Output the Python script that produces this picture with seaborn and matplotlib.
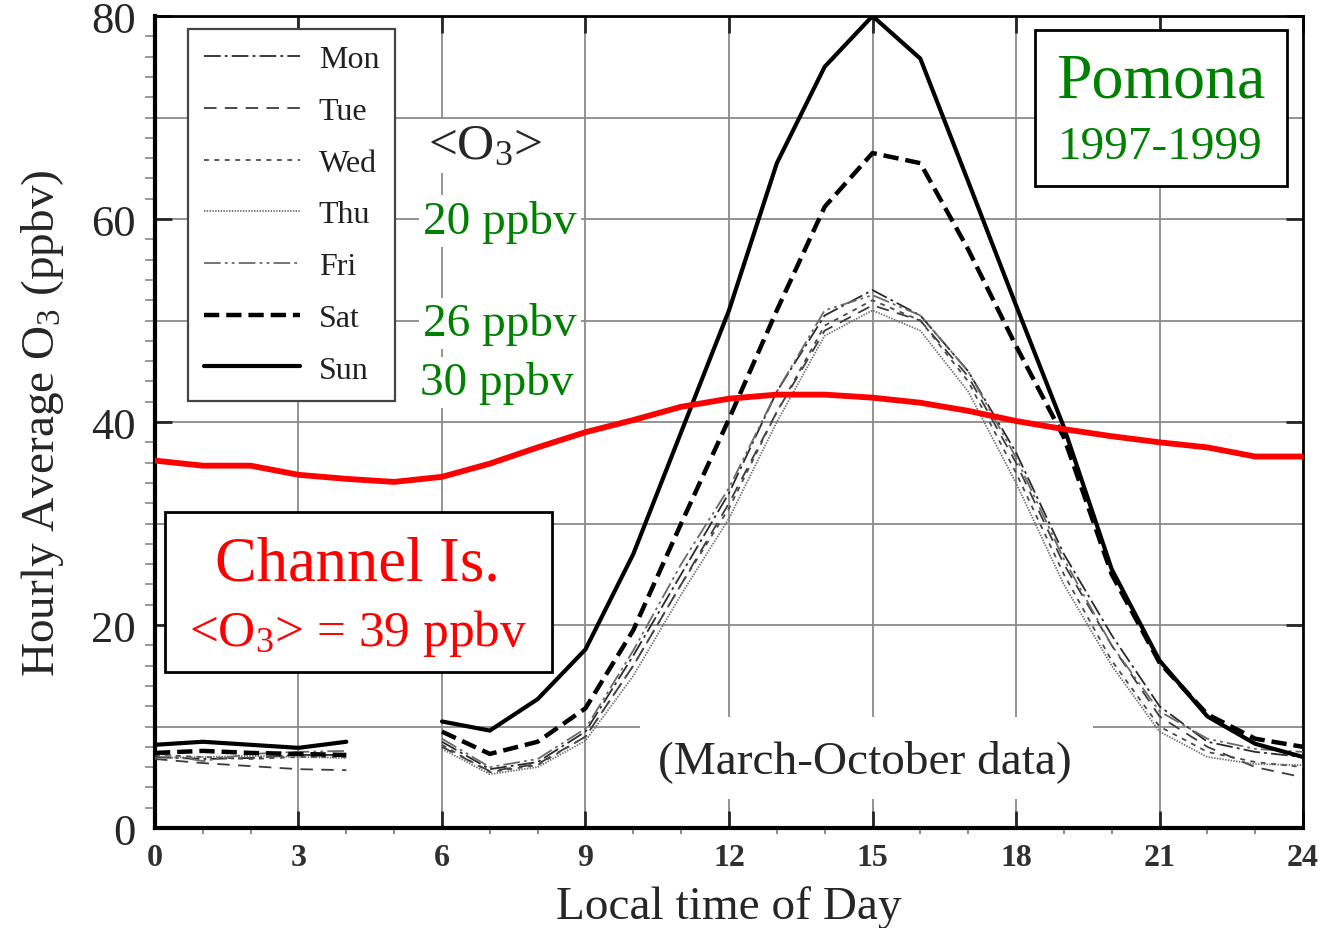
import numpy as np
import pandas as pd
import matplotlib
matplotlib.use("Agg")
import matplotlib.pyplot as plt
from matplotlib.lines import Line2D
from matplotlib.patches import Rectangle
from matplotlib.ticker import MultipleLocator
import seaborn as sns

sns.set_style("white")
plt.rcParams['font.family'] = ['Liberation Serif', 'DejaVu Serif']
plt.rcParams['mathtext.fontset'] = 'custom'
plt.rcParams['mathtext.rm'] = 'Liberation Serif'
plt.rcParams['mathtext.it'] = 'Liberation Serif:italic'
plt.rcParams['lines.scale_dashes'] = False

# ---- data, hour 5 has no Pomona data ----
hours = list(range(25))
nan = np.nan
mon = [7.0, 6.8, 6.9, 7.2, 7.2, nan, 8.5, 5.8, 6.5, 9.5, 17.0, 25.0, 33.0, 43.0, 50.5, 53.0, 50.5, 45.0, 37.0, 27.0, 19.0, 12.0, 8.5, 7.5, 7.0]
tue = [6.8, 6.4, 6.1, 5.8, 5.7, nan, 8.0, 5.6, 6.3, 9.0, 16.0, 24.0, 32.0, 41.0, 49.0, 51.5, 50.0, 44.5, 36.0, 26.0, 18.0, 11.0, 8.0, 6.0, 5.0]
wed = [7.2, 7.0, 6.8, 7.0, 7.0, nan, 8.2, 5.5, 6.2, 9.0, 16.0, 24.0, 31.5, 41.0, 49.5, 52.0, 50.0, 44.0, 35.0, 25.0, 16.5, 10.0, 7.5, 6.5, 6.0]
thu = [6.9, 7.0, 7.1, 7.0, 6.9, nan, 7.8, 5.3, 6.0, 8.6, 15.0, 23.0, 30.5, 40.0, 48.5, 51.0, 49.0, 43.0, 34.0, 24.0, 16.0, 9.5, 7.0, 6.3, 6.2]
fri = [7.4, 6.6, 7.3, 7.5, 7.6, nan, 8.8, 6.0, 6.8, 9.8, 17.5, 26.0, 33.5, 43.0, 51.0, 52.5, 50.5, 45.0, 36.5, 26.5, 18.0, 11.5, 8.8, 7.8, 7.5]
sat = [7.4, 7.6, 7.4, 7.3, 7.2, nan, 9.5, 7.3, 8.5, 11.8, 19.5, 30.0, 40.3, 51.0, 61.2, 66.5, 65.5, 57.0, 47.5, 38.5, 25.0, 16.3, 11.2, 8.8, 8.0]
sun = [8.2, 8.5, 8.2, 7.9, 8.5, nan, 10.5, 9.6, 12.7, 17.6, 27.0, 39.0, 51.0, 65.5, 75.0, 80.0, 75.8, 63.7, 51.5, 39.5, 25.5, 16.5, 11.0, 8.3, 7.0]
channel_is = [36.2, 35.7, 35.7, 34.8, 34.4, 34.1, 34.6, 35.9, 37.5, 39.0, 40.2, 41.5, 42.3, 42.7, 42.7, 42.4, 41.9, 41.1, 40.1, 39.3, 38.6, 38.0, 37.5, 36.6, 36.6]

days = ['Mon', 'Tue', 'Wed', 'Thu', 'Fri', 'Sat', 'Sun']
values = [mon, tue, wed, thu, fri, sat, sun]

# ---- styles ----
colors = {'Mon': '#2a2a2a', 'Tue': '#3c3c3c', 'Wed': '#4a4a4a', 'Thu': '#6a6a6a',
          'Fri': '#6a6a6a', 'Sat': 'black', 'Sun': 'black'}
widths = {'Mon': 1.3, 'Tue': 1.3, 'Wed': 1.3, 'Thu': 1.3, 'Fri': 1.3, 'Sat': 3.2, 'Sun': 3.0}
dashes = {'Mon': (12, 3, 2, 3), 'Tue': (9, 6), 'Wed': (3.5, 4), 'Thu': (1, 1),
          'Fri': (12, 3, 2, 3, 2, 3), 'Sat': (11, 5), 'Sun': ''}

rows = []
for d, v in zip(days, values):
    for h, o in zip(hours, v):
        if not np.isnan(o):
            rows.append({'hour': h, 'o3': o, 'day': d, 'seg': 'night' if h < 5 else 'day'})
df = pd.DataFrame(rows)

fig = plt.figure(figsize=(13.21, 9.29), dpi=100)
ax = fig.add_axes([0.1173, 0.1076, 0.8691, 0.8741])

# grid
for gy in range(10, 80, 10):
    ax.axhline(gy, color='#8a8a8a', lw=1.3, zorder=0.5)
for gx in range(3, 24, 3):
    ax.axvline(gx, color='#8a8a8a', lw=1.3, zorder=0.5)

sns.lineplot(data=df, x='hour', y='o3', hue='day', style='day', size='day',
             units='seg', estimator=None, hue_order=days, style_order=days,
             size_order=days, palette=colors, dashes=dashes, sizes=widths,
             legend=False, ax=ax, zorder=3)

sns.lineplot(x=hours, y=channel_is, color='#ff0000', lw=4.2, ax=ax, zorder=5)

ax.set_xlim(0, 24)
ax.set_ylim(0, 80)
ax.xaxis.set_major_locator(MultipleLocator(3))
ax.xaxis.set_minor_locator(MultipleLocator(1))
ax.yaxis.set_major_locator(MultipleLocator(20))
ax.yaxis.set_minor_locator(MultipleLocator(2))
ax.tick_params(axis='x', which='major', direction='in', length=12, width=2,
               top=True, bottom=True, pad=11, labelsize=23, labelcolor='#303030')
ax.tick_params(axis='x', which='minor', direction='out', length=4, width=1.2,
               top=False, bottom=True, color='#777777')
ax.tick_params(axis='y', which='major', direction='in', length=12, width=2,
               left=True, right=True, pad=14, labelsize=32)
ax.tick_params(axis='y', which='minor', direction='out', length=7, width=1.2,
               left=True, right=False, color='#888888')
for lab in ax.get_xticklabels():
    lab.set_fontweight('bold')

for side, lw in [('left', 3), ('bottom', 3), ('top', 2), ('right', 2)]:
    ax.spines[side].set_visible(True)
    ax.spines[side].set_linewidth(lw)
    ax.spines[side].set_color('black')

ax.set_xlabel('Local time of Day', fontsize=34, labelpad=9)
ax.set_ylabel('Hourly Average O$_3$ (ppbv)', fontsize=34, labelpad=18)

# legend
handles = [Line2D([], [], color=colors[d], lw=widths[d],
                  linestyle='-' if dashes[d] == '' else (0, dashes[d])) for d in days]
leg = ax.legend(handles, days, loc='upper left', bbox_to_anchor=(0.0287, 0.984),
                borderaxespad=0, fontsize=23, handlelength=3.0, handletextpad=0.6,
                labelspacing=0.7, borderpad=0.5, fancybox=False, framealpha=1,
                edgecolor='#444444')
leg.get_frame().set_linewidth(1.6)
leg.set_zorder(10)
for t in leg.get_texts():
    t.set_color('#202020')

# annotations
white = dict(facecolor='white', edgecolor='none', pad=3)
ax.text(6.9, 67.2, '<O$_3$>', fontsize=37, ha='center', va='center', zorder=6, bbox=white)
ax.text(7.21, 59.8, '20 ppbv', fontsize=34, color='green', ha='center', va='center', zorder=6, bbox=white)
ax.text(7.21, 49.7, '26 ppbv', fontsize=34, color='green', ha='center', va='center', zorder=6, bbox=white)
ax.text(7.15, 43.9, '30 ppbv', fontsize=34, color='green', ha='center', va='center', zorder=6, bbox=white)

ax.add_patch(Rectangle((18.4, 63.25), 5.27, 15.35, facecolor='white', edgecolor='black', lw=2, zorder=6))
ax.text(21.03, 73.5, 'Pomona', fontsize=46, color='green', ha='center', va='center', zorder=7)
ax.text(21.01, 67.1, '1997-1999', fontsize=34, color='green', ha='center', va='center', zorder=7)

ax.add_patch(Rectangle((0.21, 15.4), 8.09, 15.7, facecolor='white', edgecolor='black', lw=2, zorder=6))
ax.text(4.24, 26.0, 'Channel Is.', fontsize=45, color='#ff0000', ha='center', va='center', zorder=7)
ax.text(4.24, 19.3, '<O$_3$> = 39 ppbv', fontsize=37, color='#ff0000', ha='center', va='center', zorder=7)

ax.add_patch(Rectangle((10.14, 2.9), 9.46, 8.0, facecolor='white', edgecolor='none', zorder=2))
ax.text(14.84, 6.6, '(March-October data)', fontsize=34, ha='center', va='center', zorder=7)

plt.savefig('out.png', dpi=100)
